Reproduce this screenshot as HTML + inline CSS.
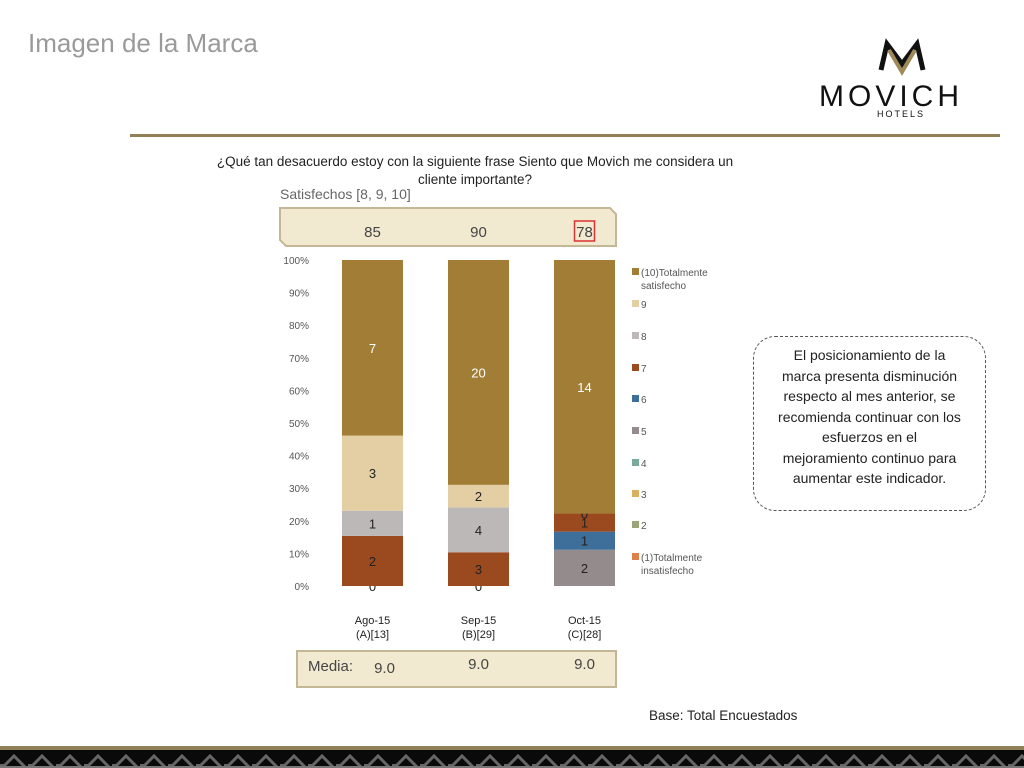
<!DOCTYPE html>
<html><head><meta charset="utf-8"><style>
body{margin:0;width:1024px;height:768px;position:relative;background:#fff;font-family:"Liberation Sans",sans-serif;overflow:hidden}
.a{position:absolute}
</style></head><body>
<div class="a" style="left:28px;top:28px;font-size:26px;color:#9a9a9a">Imagen de la Marca</div>
<div class="a" style="left:815px;top:38px;width:175px;height:85px">
<svg width="175" height="85"><polyline points="66,32 72,6 87,26 102,6 108,32" fill="none" stroke="#111" stroke-width="5"/><polyline points="74,12 87,34 100,12" fill="none" stroke="#a08a5a" stroke-width="4"/></svg>
<div class="a" style="left:4px;top:42px;font-size:30px;letter-spacing:4px;color:#111">MOVICH</div>
<div class="a" style="left:62px;top:71px;font-size:9px;letter-spacing:2px;color:#111">HOTELS</div>
</div>
<div class="a" style="left:130px;top:134px;width:870px;height:3px;background:#8f8058"></div>
<div class="a" style="left:200px;top:153px;width:550px;text-align:center;font-size:13.5px;color:#222;line-height:18px">¿Qué tan desacuerdo estoy con la siguiente frase Siento que Movich me considera un cliente importante?</div>
<div class="a" style="left:280px;top:186px;font-size:14px;color:#666">Satisfechos [8, 9, 10]</div>
<svg class="a" style="left:0;top:0" width="1024" height="768" id="c">
<polygon points="280,208 610,208 616,214 616,246 286,246 280,240" fill="#f2ead0" stroke="#c4b796" stroke-width="2"/>
<polygon points="297,651 616,651 616,687 297,687" fill="#f2ead0" stroke="#c4b796" stroke-width="2"/>
</svg>
<div class="a" style="left:308px;top:658px;font-size:15px;color:#444">Media:</div>
<div class="a" style="left:753px;top:336px;width:233px;height:175px;border:1.5px dashed #555;border-radius:22px;box-sizing:border-box;padding:8px 24px;text-align:center;font-size:14px;line-height:20.5px;color:#222">El posicionamiento de la marca presenta disminución respecto al mes anterior, se recomienda continuar con los esfuerzos en el mejoramiento continuo para aumentar este indicador.</div>
<div class="a" style="left:649px;top:708px;font-size:13.5px;color:#222">Base: Total Encuestados</div>
<div class="a" style="left:0;top:746px;width:1024px;height:4px;background:#8f8058"></div>
<svg class="a" style="left:0;top:750px" width="1024" height="18">
<defs><pattern id="p" width="28" height="18" patternUnits="userSpaceOnUse"><rect width="28" height="18" fill="#0a0a0a"/><polyline points="2,18 14,6 26,18" fill="none" stroke="#666" stroke-width="3"/><rect x="0" y="14" width="4" height="4" fill="#666"/><rect x="0" y="16" width="28" height="2" fill="#777"/></pattern></defs><rect width="1024" height="18" fill="url(#p)"/></svg>
<script>
const categories=["Ago-15","Sep-15","Oct-15"];
const bases=["(A)[13]","(B)[29]","(C)[28]"];
const levels=["(1)Totalmente insatisfecho","2","3","4","5","6","7","8","9","(10)Totalmente satisfecho"];
const colors=["#e0804a","#9aa67a","#d9b060","#7aaa9a","#948c8c","#3d6f9a","#9a4a1e","#bdb8b8","#e3cfa3","#a27d36"];
const counts=[
[0,null,null,null,null,null,2,1,3,7],
[0,null,null,null,null,null,3,4,2,20],
[null,null,null,null,2,1,1,0,null,14]];
const satisfied=["85","90","78"];
const media=["9.0","9.0","9.0"];
const yTicks=[0,10,20,30,40,50,60,70,80,90,100];
const svg=document.getElementById('c');const NS="http://www.w3.org/2000/svg";
const y0=586,y1=260,barW=61,xs=c=>342+c*106;
const y=p=>y0-(y0-y1)*p/100;
function mk(t,a){const e=document.createElementNS(NS,t);for(const k in a)e.setAttribute(k,a[k]);svg.appendChild(e);return e;}
yTicks.forEach(v=>{const t=mk('text',{x:309,y:y(v)+4,'text-anchor':'end','font-size':10,fill:'#555'});t.textContent=v+'%';
});
counts.forEach((row,c)=>{const tot=row.reduce((s,v)=>s+(v||0),0);let acc=0;
row.forEach((v,i)=>{if(v===null)return;const p0=acc/tot*100;acc+=v;const p1=acc/tot*100;
if(v>0){const r=mk('rect',{x:xs(c),y:y(p1),width:barW,height:y(p0)-y(p1),fill:colors[i]});
}
const t=mk('text',{x:xs(c)+barW/2,y:(y(p0)+y(p1))/2+5,'text-anchor':'middle','font-size':13,fill:i===9?'#fff':'#222'});t.textContent=v;
});
const s=mk('text',{x:xs(c)+barW/2,y:237,'text-anchor':'middle','font-size':15,fill:'#444'});s.textContent=satisfied[c];

if(c===2){const b=mk('rect',{x:xs(c)+barW/2-10,y:221,width:20,height:20,fill:'none',stroke:'#d33','stroke-width':1.5});
}
const m=mk('text',{x:xs(c)+barW/2-(c===0?-12:0),y:c===0?673:669,'text-anchor':'middle','font-size':15,fill:'#444'});m.textContent=media[c];

[categories[c],bases[c]].forEach((s2,k)=>{const t=mk('text',{x:xs(c)+barW/2,y:624+k*14,'text-anchor':'middle','font-size':11,fill:'#222'});t.textContent=s2;
});});
const ly=[272,304,336,368,399,431,463,494,525,557];
for(let i=9;i>=0;i--){const yy=ly[9-i];const r=mk('rect',{x:632,y:yy-4,width:7,height:7,fill:colors[i]});

const parts=levels[i].split(' ');parts.forEach((pt,k)=>{const t=mk('text',{x:641,y:yy+4+k*13,'font-size':10,fill:'#555'});t.textContent=pt;
});}
</script>
</body></html>
